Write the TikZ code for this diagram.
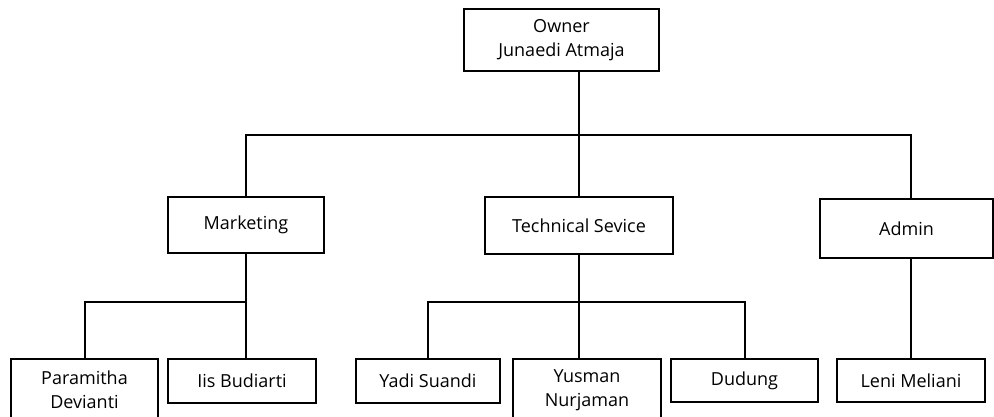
\documentclass[tikz,border=0pt]{standalone}
\usepackage{fontspec}
\setmainfont{Open Sans}

\begin{document}
\begin{tikzpicture}[
    x=1pt,y=-1pt,
    person/.style={rectangle,draw,line width=2pt,inner sep=0pt,align=center,font=\fontsize{18}{24}\selectfont,text=black},
    link/.style={line width=2pt}
]
    \useasboundingbox (0,0) rectangle (994,416);

    % Owner
    \node[person,minimum width=195pt,minimum height=62pt] (owner) at (561.5,40) {Owner\\Junaedi Atmaja};

    % Divisions
    \node[person,minimum width=156pt,minimum height=56pt] (mkt) at (246,225) {Marketing};
    \node[person,minimum width=188pt,minimum height=57pt] (tech) at (579,225.5) {Technical Sevice};
    \node[person,minimum width=173pt,minimum height=59pt] (adm) at (906.5,228.5) {Admin};

    % Staff
    \node[person,minimum width=147pt,minimum height=62pt] (par) at (84.5,390) {Paramitha\\Devianti};
    \node[person,minimum width=148pt,minimum height=44pt] (iis) at (242,381) {Iis Budiarti};
    \node[person,minimum width=144pt,minimum height=44pt] (yadi) at (428,381) {Yadi Suandi};
    \node[person,minimum width=148pt,minimum height=62pt] (yus) at (587,390) {Yusman\\Nurjaman};
    \node[person,minimum width=147pt,minimum height=43pt] (dud) at (744.5,380.5) {Dudung};
    \node[person,minimum width=148pt,minimum height=43pt] (leni) at (911,380.5) {Leni Meliani};

    % Bus lines
    \coordinate (bus0) at (0,135);
    \coordinate (bus1) at (0,302);

    \draw[link] (owner.south -| tech.north) -- (tech.north);
    \draw[link] (mkt.north) |- (leni.north |- bus0) -- (leni.north |- adm.north);

    \draw[link] (mkt.south) -- (mkt.south |- iis.north);
    \draw[link] (par.north) |- (mkt.south |- bus1);

    \draw[link] (tech.south) -- (tech.south |- yus.north);
    \draw[link] (yadi.north) |- (dud.north |- bus1) -- (dud.north);

    \draw[link] (adm.south -| leni.north) -- (leni.north);
\end{tikzpicture}
\end{document}
